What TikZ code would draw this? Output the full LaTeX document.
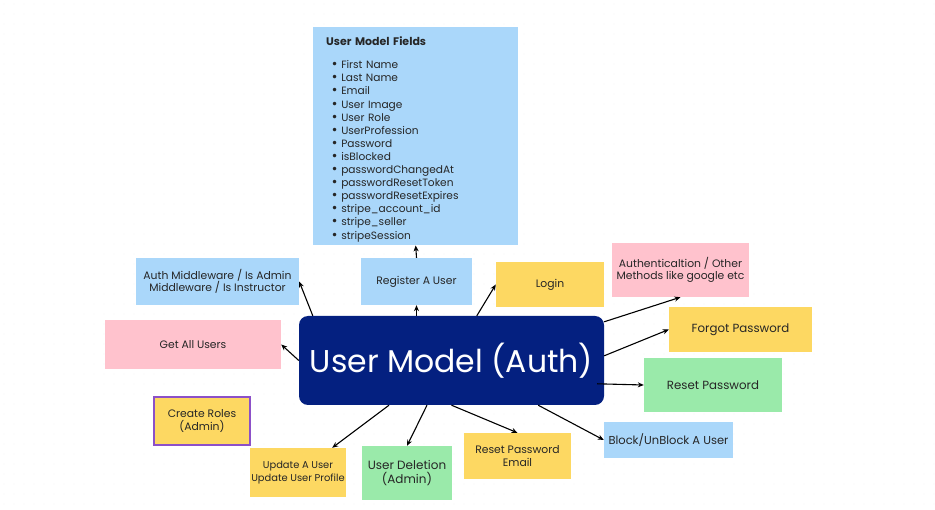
\documentclass[tikz,border=0pt]{standalone}
\usepackage{fontspec}
\setmainfont{Poppins}
\newfontfamily\dvs{DejaVu Sans}
\usetikzlibrary{arrows.meta,calc}
\definecolor{skyb}{RGB}{170,215,250}
\definecolor{sticky}{RGB}{253,216,98}
\definecolor{pinkb}{RGB}{255,194,205}
\definecolor{greenb}{RGB}{154,234,170}
\definecolor{navy}{RGB}{4,32,128}
\definecolor{purp}{RGB}{140,80,200}
\definecolor{dotc}{RGB}{230,230,230}
\newcommand{\bul}{\hspace*{5pt}{\dvs\fontsize{12}{13}\selectfont •}\hspace{3pt}}
\tikzset{
  box/.style={inner sep=0pt, align=center, font=\fontsize{10.8}{12.5}\selectfont, text=black!85},
  arr/.style={-{Stealth[length=6pt,width=5pt]}, line width=1.1pt, black},
}
\begin{document}
\begin{tikzpicture}[x=1pt,y=-1pt]
\useasboundingbox (0,0) rectangle (935,510);
\fill[white] (0,0) rectangle (935,510);
\foreach \i in {0,...,93} {\foreach \j in {0,...,50} {\fill[dotc] (\i*10+4,\j*10+4) circle (0.45pt);}}
% fields box
\node[box, fill=skyb, anchor=north west, minimum width=205pt, minimum height=218pt, text width=179pt, align=left, font=\fontsize{10.6}{13.1}\selectfont] (fields) at (313,27) {%
\rule{0pt}{15pt}{\bfseries\fontsize{11}{13}\selectfont User Model Fields}\\[10pt]
\bul First Name\\
\bul Last Name\\
\bul Email\\
\bul User Image\\
\bul User Role\\
\bul UserProfession\\
\bul Password\\
\bul isBlocked\\
\bul passwordChangedAt\\
\bul passwordResetToken\\
\bul passwordResetExpires\\
\bul stripe\_account\_id\\
\bul stripe\_seller\\
\bul stripeSession};
% main
\node[fill=navy, rounded corners=9pt, minimum width=305pt, minimum height=89pt, text=white, font=\fontsize{31.5}{34}\selectfont, inner sep=0pt] (main) at (451.5,360.5) {User Model (Auth)};
% boxes
\node[box, fill=skyb, minimum width=111pt, minimum height=47pt] (reg) at (416.5,281.5) {Register A User};
\node[box, fill=skyb, minimum width=163pt, minimum height=47pt] (mw) at (217.5,281.5) {Auth Middleware / Is Admin\\Middleware / Is Instructor};
\node[box, fill=pinkb, minimum width=176pt, minimum height=49pt] (gau) at (193,344.5) {Get All Users};
\node[box, fill=sticky, draw=purp, line width=1.5pt, minimum width=96pt, minimum height=48pt] (roles) at (202,421) {Create Roles\\(Admin)};
\node[box, fill=sticky, minimum width=96pt, minimum height=49pt, font=\fontsize{9.9}{12.5}\selectfont] (upd) at (298,472.5) {Update A User\\Update User Profile};
\node[box, fill=greenb, minimum width=90pt, minimum height=54pt, font=\fontsize{12}{14}\selectfont] (del) at (407,473) {User Deletion\\(Admin)};
\node[box, fill=sticky, minimum width=107pt, minimum height=46pt] (rpe) at (517.5,456) {Reset Password\\Email};
\node[box, fill=sticky, minimum width=108pt, minimum height=45pt] (login) at (550,284.5) {Login};
\node[box, fill=pinkb, minimum width=137pt, minimum height=54pt] (auth) at (680.5,270) {Authenticaltion / Other\\Methods like google etc};
\node[box, fill=sticky, minimum width=143pt, minimum height=45pt, font=\fontsize{11.8}{13}\selectfont] (forgot) at (740.5,329.5) {Forgot Password};
\node[box, fill=greenb, minimum width=138pt, minimum height=54pt, font=\fontsize{11.8}{13}\selectfont] (reset) at (713,385) {Reset Password};
\node[box, fill=skyb, minimum width=129pt, minimum height=36pt, font=\fontsize{11.5}{13}\selectfont] (block) at (668.5,440) {Block/UnBlock A User};
% arrows
\draw[arr] (reg.south |- main.north) -- (reg.south);
\draw[arr] (reg.north) -- (fields.south);
\draw[arr] ([xshift=14pt]main.north west) -- (mw.east);
\draw[arr] (main.west) -- (gau.east);
\draw[arr] ([xshift=178pt]main.north west) -- (login.west);
\draw[arr] ([yshift=-6pt]main.north east) -- (auth.south);
\draw[arr] ([yshift=-40pt]main.north east) -- (forgot.west);
\draw[arr] ([xshift=-7pt,yshift=-68pt]main.north east) -- (reset.west);
\draw[arr] ([xshift=-66pt]main.south east) -- (block.west);
\draw[arr] (main.south) -- (rpe.north);
\draw[arr] ([xshift=-24.5pt]main.south) -- (del.north);
\draw[arr] ([xshift=-62.5pt]main.south) -- ([xshift=-14pt]upd.north east);
\end{tikzpicture}
\end{document}
